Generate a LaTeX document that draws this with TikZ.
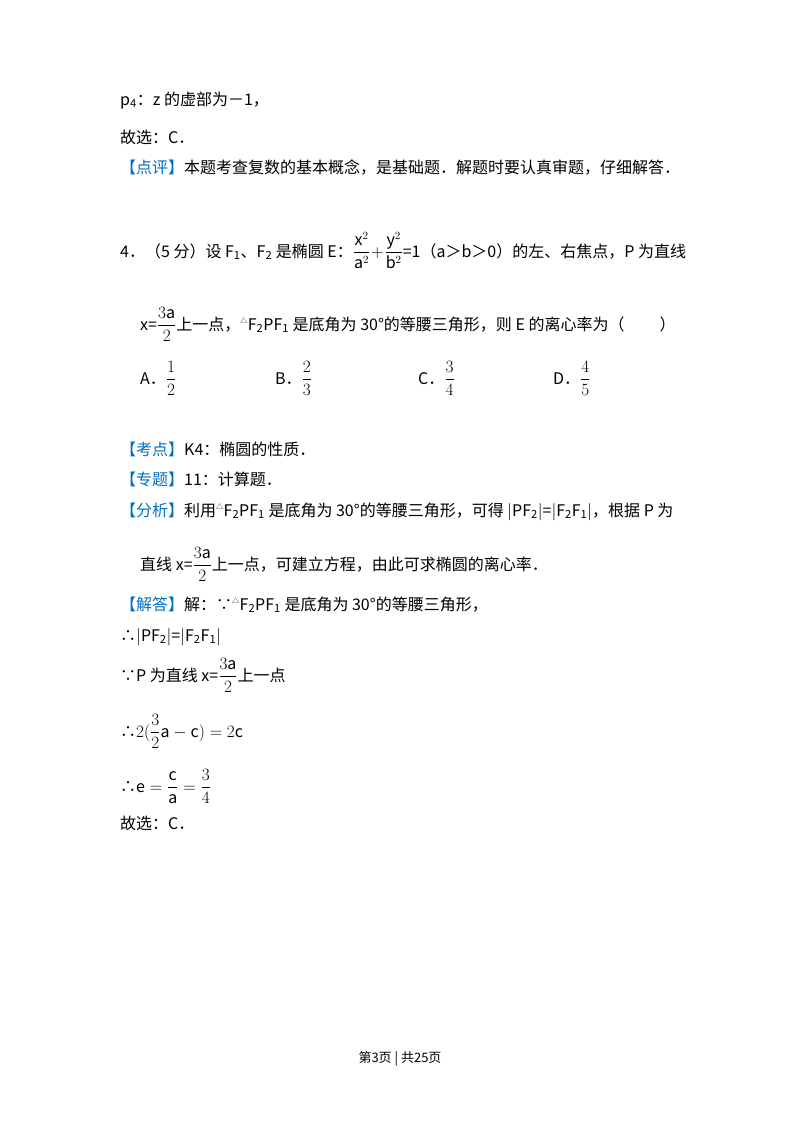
\documentclass[tikz,border=0pt]{standalone}
\usepackage{fontspec}
\setmainfont{Noto Sans CJK SC}
\usepackage{amsmath}
\definecolor{tagblue}{RGB}{0,112,192}
\begin{document}
\begin{tikzpicture}[x=1pt,y=-1pt,
  t/.style={anchor=base west,inner sep=0pt,font=\fontsize{16}{18}\selectfont},
  tag/.style={text=tagblue}]
\useasboundingbox (0,0) rectangle (800,1133);
\fill[white] (0,0) rectangle (800,1133);
\node[t] (l1) at (120,105) {p\textsubscript{4}：z 的虚部为－1，};
\node[t] (l2) at (120,143) {故选：C．};
\node[t] (l3) at (120,173) {\textcolor{tagblue}{【点评】}本题考查复数的基本概念，是基础题．解题时要认真审题，仔细解答．};
\node[t] (q1) at (120,257) {4．（5 分）设 F\textsubscript{1}、F\textsubscript{2} 是椭圆 E：$\dfrac{\mathrm{x}^2}{\mathrm{a}^2}\!+\!\dfrac{\mathrm{y}^2}{\mathrm{b}^2}$=1（a＞b＞0）的左、右焦点，P 为直线};
\node[t] (q2) at (140,330) {x=$\dfrac{3\mathrm{a}}{2}$上一点，\textsuperscript{\scriptsize△}F\textsubscript{2}PF\textsubscript{1} 是底角为 30°的等腰三角形，则 E 的离心率为（\hspace{2.2em}）};
\node[t] (oA) at (140,384) {A．$\dfrac{1}{2}$};
\node[t] (oB) at (275,384) {B．$\dfrac{2}{3}$};
\node[t] (oC) at (418,384) {C．$\dfrac{3}{4}$};
\node[t] (oD) at (553,384) {D．$\dfrac{4}{5}$};
\node[t] (k1) at (120,455) {\textcolor{tagblue}{【考点】}K4：椭圆的性质．};
\node[t] (k2) at (120,485) {\textcolor{tagblue}{【专题】}11：计算题．};
\node[t] (k3) at (120,516) {\textcolor{tagblue}{【分析】}利用\textsuperscript{\scriptsize△}F\textsubscript{2}PF\textsubscript{1} 是底角为 30°的等腰三角形，可得 $|$PF\textsubscript{2}$|$=$|$F\textsubscript{2}F\textsubscript{1}$|$，根据 P 为};
\node[t] (k4) at (140,570) {直线 x=$\dfrac{3\mathrm{a}}{2}$上一点，可建立方程，由此可求椭圆的离心率．};
\node[t] (s1) at (120,610) {\textcolor{tagblue}{【解答】}解：∵\textsuperscript{\scriptsize△}F\textsubscript{2}PF\textsubscript{1} 是底角为 30°的等腰三角形，};
\node[t] (s2) at (120,641) {∴$|$PF\textsubscript{2}$|$=$|$F\textsubscript{2}F\textsubscript{1}$|$};
\node[t] (s3) at (120,681) {∵P 为直线 x=$\dfrac{3\mathrm{a}}{2}$上一点};
\node[t] (s4) at (120,737) {∴$2(\dfrac{3}{2}\mathrm{a}-\mathrm{c})=2\mathrm{c}$};
\node[t] (s5) at (120,792) {∴$\mathrm{e}=\dfrac{\mathrm{c}}{\mathrm{a}}=\dfrac{3}{4}$};
\node[t] (s6) at (120,829) {故选：C．};
\node[anchor=base,inner sep=0pt,font=\fontsize{13}{15}\selectfont] (ft) at (400,1062) {第3页 | 共25页};
\end{tikzpicture}
\end{document}
